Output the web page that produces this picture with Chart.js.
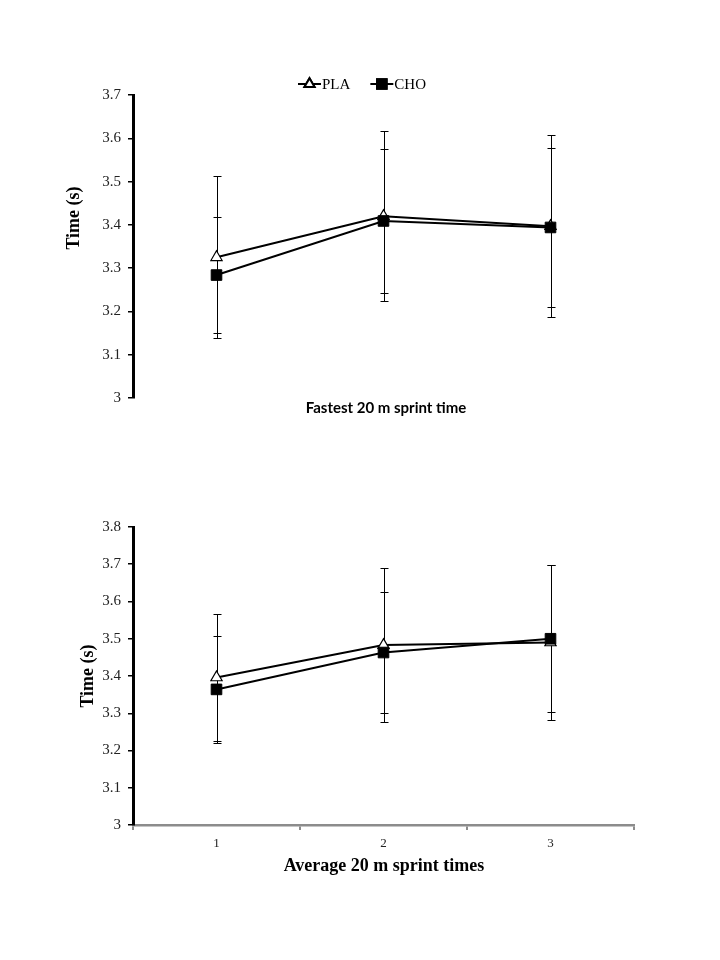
<!DOCTYPE html>
<html>
<head>
<meta charset="utf-8">
<script src="https://cdn.jsdelivr.net/npm/chart.js@4.4.1/dist/chart.umd.min.js"></script>
<style>
  body { margin: 0; background: #fff; }
  canvas { display: block; }
</style>
</head>
<body>
<canvas id="fastest" width="720" height="480"></canvas>
<canvas id="average" width="720" height="480"></canvas>
<script>
// data
const categories = ['1', '2', '3'];

const fastestPLA = [3.325, 3.42, 3.397];
const fastestPLAsd = [0.187, 0.197, 0.21];
const fastestCHO = [3.284, 3.409, 3.394];
const fastestCHOsd = [0.134, 0.167, 0.183];

const averagePLA = [3.396, 3.483, 3.49];
const averagePLAsd = [0.171, 0.207, 0.209];
const averageCHO = [3.364, 3.463, 3.5];
const averageCHOsd = [0.143, 0.162, 0.197];

const fastestYTicks = [3, 3.1, 3.2, 3.3, 3.4, 3.5, 3.6, 3.7];
const averageYTicks = [3, 3.1, 3.2, 3.3, 3.4, 3.5, 3.6, 3.7, 3.8];

Chart.defaults.font.family = "'Liberation Serif', 'Times New Roman', serif";
Chart.defaults.color = '#222';

// error bars under the lines
const errorBars = {
  id: 'errorBars',
  beforeDatasetsDraw(chart) {
    const ctx = chart.ctx;
    const yScale = chart.scales.y;
    ctx.save();
    ctx.strokeStyle = '#000';
    ctx.lineWidth = 1;
    chart.data.datasets.forEach((ds, i) => {
      const meta = chart.getDatasetMeta(i);
      meta.data.forEach((pt, j) => {
        const v = ds.data[j], sd = ds.sd[j];
        const top = Math.round(yScale.getPixelForValue(v + sd)) + 0.5;
        const bot = Math.round(yScale.getPixelForValue(v - sd)) + 0.5;
        const x = Math.round(pt.x) + 0.5;
        ctx.beginPath();
        ctx.moveTo(x, top); ctx.lineTo(x, bot);
        ctx.moveTo(x - 4, top); ctx.lineTo(x + 4, top);
        ctx.moveTo(x - 4, bot); ctx.lineTo(x + 4, bot);
        ctx.stroke();
      });
    });
    ctx.restore();
  }
};

// axis titles and legend at fixed spots
const extras = {
  id: 'extras',
  afterDraw(chart, args, opts) {
    const ctx = chart.ctx;
    (opts.titles || []).forEach(t => {
      ctx.save();
      ctx.font = t.font;
      ctx.fillStyle = '#000';
      ctx.textAlign = 'center';
      ctx.textBaseline = 'middle';
      ctx.translate(t.x, t.y);
      if (t.rotate) ctx.rotate(-Math.PI / 2);
      ctx.fillText(t.text, 0, 0);
      ctx.restore();
    });
    if (opts.legend) {
      const lg = opts.legend;
      const order = [1, 0];
      let x = lg.x;
      order.forEach(i => {
        const ds = chart.data.datasets[i];
        ctx.save();
        ctx.strokeStyle = '#000';
        ctx.lineWidth = 2;
        ctx.beginPath();
        ctx.moveTo(x, lg.y); ctx.lineTo(x + 23, lg.y);
        ctx.stroke();
        Chart.helpers.drawPoint(ctx, {
          pointStyle: ds.pointStyle, radius: ds.pointRadius * 0.9,
          borderWidth: 1.2, rotation: 0
        }, x + 11.5, lg.y);
        ctx.fillStyle = ds.pointBackgroundColor;
        ctx.strokeStyle = '#000';
        ctx.fill();
        ctx.stroke();
        ctx.fillStyle = '#000';
        ctx.font = '15px "Liberation Serif"';
        ctx.textBaseline = 'middle';
        ctx.fillText(ds.label, x + 24, lg.y + 1);
        x += 24 + ctx.measureText(ds.label).width + 20;
        ctx.restore();
      });
    }
  }
};

function makeDatasets(pla, plaSd, cho, choSd) {
  return [
    {
      label: 'CHO', data: cho, sd: choSd, order: 0,
      borderColor: '#000', borderWidth: 2, tension: 0,
      pointStyle: 'rect', pointRadius: 7.5,
      pointBackgroundColor: '#000', pointBorderColor: '#000', pointBorderWidth: 1
    },
    {
      label: 'PLA', data: pla, sd: plaSd, order: 1,
      borderColor: '#000', borderWidth: 2, tension: 0,
      pointStyle: 'triangle', pointRadius: 6.5,
      pointBackgroundColor: '#fff', pointBorderColor: '#000', pointBorderWidth: 1.2
    }
  ];
}

function yAxis(ticks, width) {
  return {
    min: ticks[0], max: ticks[ticks.length - 1],
    afterBuildTicks: s => { s.ticks = ticks.map(v => ({ value: v })); },
    afterFit: s => { s.width = width; },
    border: { color: '#000', width: 3 },
    grid: { drawOnChartArea: false, color: '#000', tickLength: 5, lineWidth: 1.5 },
    ticks: {
      font: { size: 15 }, padding: 7, color: '#222',
      callback: v => String(Number(v.toFixed(1)))
    }
  };
}

new Chart(document.getElementById('fastest'), {
  type: 'line',
  data: { labels: categories, datasets: makeDatasets(fastestPLA, fastestPLAsd, fastestCHO, fastestCHOsd) },
  options: {
    responsive: false,
    animation: false,
    layout: { padding: { left: 0, right: 86, top: 95, bottom: 82 } },
    scales: {
      x: { display: false, offset: true },
      y: yAxis(fastestYTicks, 133)
    },
    plugins: {
      legend: { display: false },
      tooltip: { enabled: false },
      extras: {
        titles: [
          { text: 'Time (s)', x: 74, y: 218, rotate: true, font: 'bold 18px "Liberation Serif"' },
          { text: 'Fastest 20 m sprint time', x: 386, y: 408, font: 'bold 15px Lato' }
        ],
        legend: { x: 298, y: 84 }
      }
    }
  },
  plugins: [errorBars, extras]
});

new Chart(document.getElementById('average'), {
  type: 'line',
  data: { labels: categories, datasets: makeDatasets(averagePLA, averagePLAsd, averageCHO, averageCHOsd) },
  options: {
    responsive: false,
    animation: false,
    layout: { padding: { left: 0, right: 86, top: 47, bottom: 105 } },
    scales: {
      x: {
        offset: true,
        afterFit: s => { s.height = 30; },
        border: { color: '#8c8c8c', width: 2.5 },
        grid: { drawOnChartArea: false, offset: true, color: '#8c8c8c', tickLength: 5, lineWidth: 2 },
        ticks: { font: { size: 13 }, padding: 6, color: '#222' }
      },
      y: yAxis(averageYTicks, 133)
    },
    plugins: {
      legend: { display: false },
      tooltip: { enabled: false },
      extras: {
        titles: [
          { text: 'Time (s)', x: 88, y: 196, rotate: true, font: 'bold 18px "Liberation Serif"' },
          { text: 'Average 20 m sprint times', x: 384, y: 386, font: 'bold 18px "Liberation Serif"' }
        ]
      }
    }
  },
  plugins: [errorBars, extras]
});
</script>
</body>
</html>
